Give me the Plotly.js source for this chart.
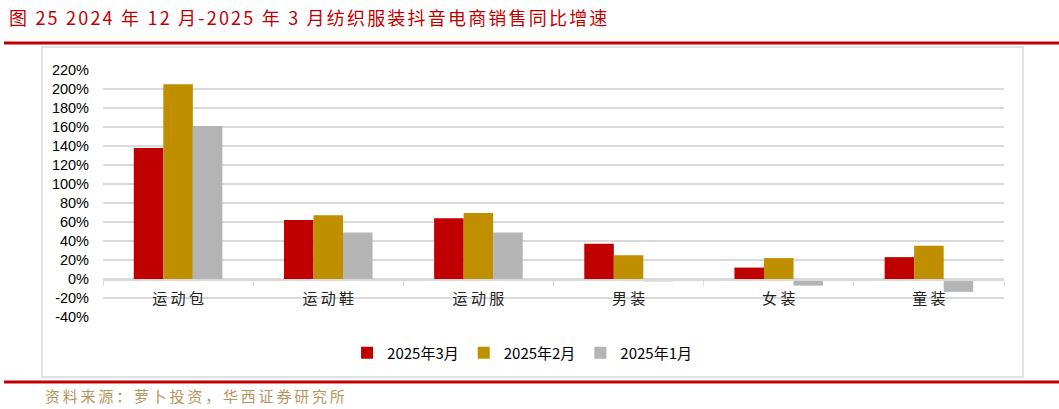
<!DOCTYPE html>
<html><head><meta charset="utf-8">
<script src="https://cdn.plot.ly/plotly-3.0.1.min.js"></script>
<style>html,body{margin:0;padding:0;background:#fff;}#chart{width:1059px;height:409px;}</style>
</head><body><div id="chart"></div>
<script>
const categories = ['运动包','运动鞋','运动服','男装','女装','童装'];
const seriesNames = ['2025年3月','2025年2月','2025年1月'];
const mar2025 = [138, 62, 64, 37, 12, 23];
const feb2025 = [205, 67, 69.5, 25, 22, 35];
const jan2025 = [161, 49, 49, -2.5, -7, -13.5];
const yTicks = [-40,-20,0,20,40,60,80,100,120,140,160,180,200,220];
const colors = ['#C00000','#BF8F00','#B4B4B4'];

const W = 1059, H = 409;
const px = v => v / W, py = v => 1 - v / H;
const yLo = -40, yHi = 220;
const yDom = [py(317), py(70)];
const zeroPos = yDom[0] + (0 - yLo) / (yHi - yLo) * (yDom[1] - yDom[0]);

const data = [mar2025, feb2025, jan2025].map((vals, i) => ({
  type: 'bar', x: categories, y: vals, name: seriesNames[i],
  marker: {color: colors[i]}, hoverinfo: 'x+y'
}));

const font = '"Noto Sans CJK SC", "Noto Sans", sans-serif';
const spaced = (s, ls) => '<span style="letter-spacing:' + ls + 'px">' + s + '</span>';
const layout = {
  width: W, height: H, margin: {l:0, r:0, t:0, b:0},
  paper_bgcolor: '#fff', plot_bgcolor: '#fff',
  barmode: 'group', bargap: 0.41, bargroupgap: 0,
  font: {family: font, color: '#000'},
  xaxis: {
    domain: [px(103), px(1004)], anchor: 'free', position: zeroPos,
    showline: true, linecolor: '#d9d9d9', linewidth: 1.5,
    ticks: 'outside', tickson: 'boundaries', ticklen: 5, tickcolor: '#d9d9d9',
    tickvals: categories, ticktext: categories.map(c => c.split('').join(' ')),
    ticklabelstandoff: 5,
    tickfont: {size: 15, color: '#222', family: font}, showgrid: false, zeroline: false,
    fixedrange: true
  },
  yaxis: {
    domain: yDom, range: [yLo, yHi], tickvals: yTicks,
    ticktext: yTicks.map(v => v + '%'),
    tickfont: {size: 14.5, color: '#000', family: 'Arial, "Liberation Sans", sans-serif'},
    showgrid: true, gridcolor: '#d9d9d9', gridwidth: 1.5, zeroline: false,
    showline: false, ticks: '', ticklabelstandoff: 13, fixedrange: true
  },
  legend: {
    orientation: 'h', x: 0.493, xanchor: 'center', y: py(353), yanchor: 'middle',
    font: {size: 15, color: '#000', family: font}, itemwidth: 30, traceorder: 'normal',
    itemclick: false
  },
  showlegend: true,
  shapes: [
    {type:'rect', xref:'paper', yref:'paper', x0:px(42), x1:px(1023), y0:py(377), y1:py(47),
     line:{color:'#d9d9d9', width:1.5}, fillcolor:'rgba(0,0,0,0)', layer:'below'},
    {type:'line', xref:'paper', yref:'paper', x0:px(4), x1:1, y0:py(43), y1:py(43),
     line:{color:'#C00000', width:3}},
    {type:'line', xref:'paper', yref:'paper', x0:px(4), x1:1, y0:py(382), y1:py(382),
     line:{color:'#C00000', width:3}}
  ],
  annotations: [
    {xref:'paper', yref:'paper', x:px(7), y:py(17), xanchor:'left', yanchor:'middle',
     showarrow:false, text: spaced('图 25 2024 年 12 月-2025 年 3 月纺织服装抖音电商销售同比增速', 2.2),
     font:{size:18, color:'#C00000', family: font}},
    {xref:'paper', yref:'paper', x:px(43), y:py(395), xanchor:'left', yanchor:'middle',
     showarrow:false, text: spaced('资料来源：萝卜投资，华西证券研究所', 2.8),
     font:{size:15, color:'#B8935F', family: font}}
  ]
};
Plotly.newPlot('chart', data, layout, {displayModeBar:false, staticPlot:true});
</script></body></html>
